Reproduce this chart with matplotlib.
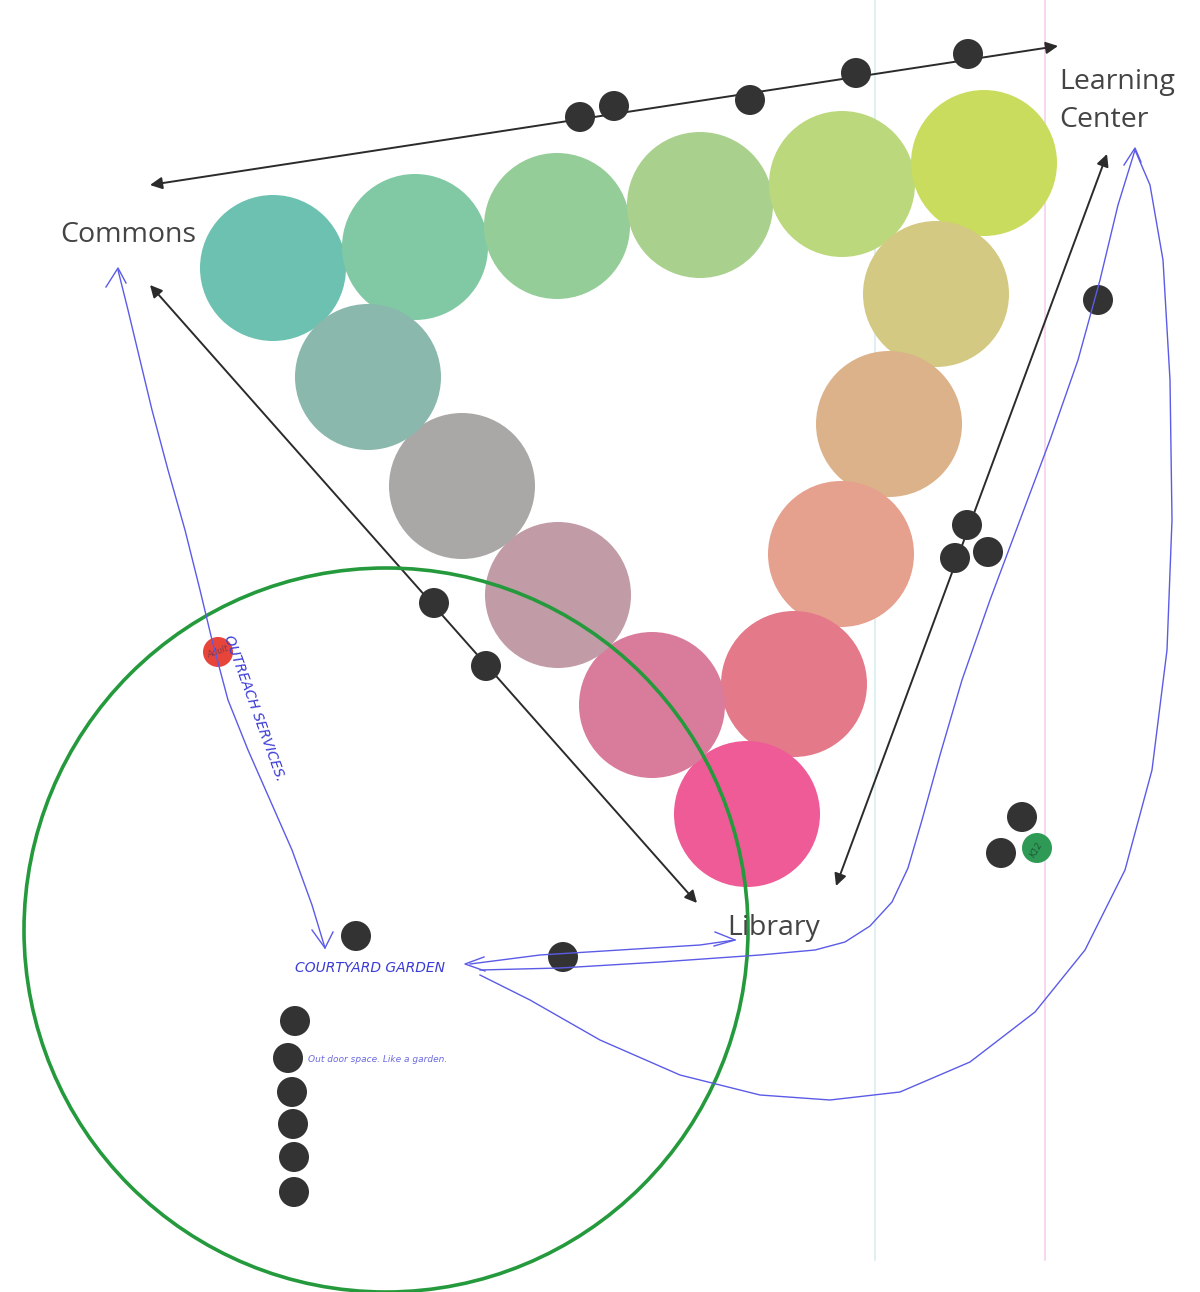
import numpy as np
import matplotlib.pyplot as plt
from matplotlib.patches import Circle

# colored ring of circles (centre x, centre y in image pixels) and colours
ring_x = [273, 415, 557, 700, 842, 984, 936, 889, 841, 794, 747, 652, 558, 462, 368]
ring_y = [268, 247, 226, 205, 184, 163, 294, 424, 554, 684, 814, 705, 595, 486, 377]
ring_colors = ['#6cc1b1', '#80c9a4', '#95cd98', '#a9d08c', '#bbd97c', '#cadc5e',
               '#d3c983', '#dcb28a', '#e6a08e', '#e4798a', '#ee5b97', '#d97c9c',
               '#c19ba6', '#a9a8a7', '#8ab8ac']
ring_r = 73

# dark dots
dot_x = [580, 614, 750, 856, 968, 1098, 967, 955, 988, 1022, 1001, 434, 486,
         356, 563, 295, 288, 292, 293, 294, 294]
dot_y = [117, 106, 100, 73, 54, 300, 525, 558, 552, 817, 853, 603, 666,
         936, 957, 1021, 1058, 1092, 1124, 1157, 1192]
dot_r = 15

# labels
places = ['Commons', 'Learning\nCenter', 'Library']
place_x = [128, 1059, 774]
place_y = [235, 101, 928]

# hand-drawn blue strokes
stroke_outreach_x = [118, 128, 140, 152, 168, 185, 200, 212, 228, 248, 270, 292, 312, 325]
stroke_outreach_y = [270, 310, 360, 410, 470, 530, 590, 640, 700, 750, 800, 850, 905, 948]
stroke_lib_x = [470, 540, 620, 700, 735]
stroke_lib_y = [964, 955, 950, 945, 940]
stroke_lc_x = [480, 560, 660, 760, 815, 845, 870, 892, 908, 922, 940, 962, 990, 1020, 1050, 1078, 1100, 1118, 1135]
stroke_lc_y = [970, 968, 962, 955, 950, 942, 926, 902, 868, 820, 755, 680, 600, 520, 440, 360, 280, 205, 150]
stroke_loop_x = [480, 530, 600, 680, 760, 830, 900, 970, 1035, 1085, 1125, 1152, 1167, 1172, 1170, 1163, 1150, 1135]
stroke_loop_y = [975, 1000, 1040, 1075, 1095, 1100, 1092, 1062, 1012, 950, 870, 770, 650, 520, 380, 260, 185, 150]

fig = plt.figure(figsize=(12, 12.92), dpi=100)
ax = fig.add_axes([0, 0, 1, 1])
ax.set_xlim(0, 1200)
ax.set_ylim(1292, 0)
ax.set_aspect('equal')
ax.axis('off')

# faint scanner streaks
ax.plot([875, 875], [0, 1260], color='#d8eef0', lw=1.2, zorder=0)
ax.plot([1045, 1045], [0, 1260], color='#f6d2ec', lw=1.2, zorder=0)

for cx, cy, col in zip(ring_x, ring_y, ring_colors):
    ax.add_patch(Circle((cx, cy), ring_r, color=col, lw=0, zorder=2))

# black double arrows
arrow_kw = dict(arrowstyle='<|-|>', color='#2b2b2b', lw=1.4, mutation_scale=18,
                shrinkA=0, shrinkB=0)
ax.annotate('', xy=(1058, 46), xytext=(150, 185), arrowprops=arrow_kw, zorder=3)
ax.annotate('', xy=(697, 903), xytext=(150, 285), arrowprops=arrow_kw, zorder=3)
ax.annotate('', xy=(1107, 154), xytext=(836, 886), arrowprops=arrow_kw, zorder=3)

for cx, cy in zip(dot_x, dot_y):
    ax.add_patch(Circle((cx, cy), dot_r, color='#333333', lw=0, zorder=4))

# red and green markers
ax.add_patch(Circle((218, 652), 15, color='#e8453a', lw=0, zorder=4))
ax.text(218, 652, 'Adult', fontsize=6, color='#7a3a55', style='italic',
        rotation=20, ha='center', va='center', zorder=5)
ax.add_patch(Circle((1037, 848), 15, color='#2e9a55', lw=0, zorder=4))
ax.text(1037, 850, 'K12', fontsize=6, color='#1f5a3a', style='italic',
        rotation=60, ha='center', va='center', zorder=5)

# green circle
ax.add_patch(Circle((386, 930), 362, fill=False, ec='#249a3c', lw=2.6, zorder=5))

# blue strokes
blue = '#5b5be8'
for xs, ys in [(stroke_outreach_x, stroke_outreach_y), (stroke_lib_x, stroke_lib_y),
               (stroke_lc_x, stroke_lc_y), (stroke_loop_x, stroke_loop_y)]:
    ax.plot(xs, ys, color=blue, lw=1.0, zorder=6, solid_joinstyle='round')
# hand-drawn arrow heads
ax.plot([106, 118, 126], [287, 268, 283], color=blue, lw=1.0, zorder=6)
ax.plot([312, 325, 333], [930, 948, 932], color=blue, lw=1.0, zorder=6)
ax.plot([484, 465, 485], [957, 964, 971], color=blue, lw=1.0, zorder=6)
ax.plot([715, 735, 714], [932, 940, 946], color=blue, lw=1.0, zorder=6)
ax.plot([1124, 1135, 1141], [165, 148, 162], color=blue, lw=1.0, zorder=6)

# handwritten notes
ax.text(254, 708, 'OUTREACH SERVICES.', fontsize=10, color='#3b3bd6', style='italic',
        rotation=-70, ha='center', va='center', zorder=6)
ax.text(370, 968, 'COURTYARD GARDEN', fontsize=10, color='#3b3bd6', style='italic',
        ha='center', va='center', zorder=6)
ax.text(378, 1060, 'Out door space. Like a garden.', fontsize=6.5, color='#6a6ae0',
        style='italic', ha='center', va='center', zorder=6)

# place labels
for name, px, py in zip(places, place_x, place_y):
    ha = 'left' if name.startswith('Learning') else 'center'
    ax.text(px, py, name, fontsize=20.5, color='#444444', family='Open Sans',
            ha=ha, va='center', linespacing=1.45, zorder=7)

fig.savefig('out.png', dpi=100)
